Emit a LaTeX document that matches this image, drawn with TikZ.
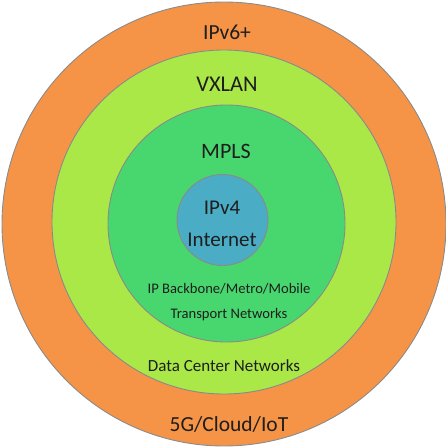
\documentclass[tikz,border=0pt]{standalone}
\usepackage{fontspec}
\setmainfont{Carlito}
\definecolor{orng}{HTML}{F59446}
\definecolor{lgreen}{HTML}{AAE847}
\definecolor{mgreen}{HTML}{48D76F}
\definecolor{bluec}{HTML}{4BACC6}
\definecolor{ring}{HTML}{8A8A8A}
\definecolor{txt}{HTML}{1E1E1E}
\begin{document}
\begin{tikzpicture}[x=1pt,y=-1pt,
  layer/.style={circle,draw=ring,line width=0.9pt,inner sep=0pt},
  lbl/.style={text=txt,inner sep=0pt,anchor=base}]
\useasboundingbox (0,0) rectangle (446,447);
\node[layer,fill=orng,minimum size=444pt] (c1) at (224,224) {};
\node[layer,fill=lgreen,minimum size=344pt] (c2) at (224,222) {};
\node[layer,fill=mgreen,minimum size=237pt] (c3) at (226.5,223.5) {};
\node[layer,fill=bluec,minimum size=91pt] (c4) at (222.5,220) {};
\node[lbl,font=\fontsize{21.5}{24}\selectfont] (t1) at (227,39) {IPv6+};
\node[lbl,font=\fontsize{22.5}{24}\selectfont] (t2) at (227,91) {VXLAN};
\node[lbl,font=\fontsize{22}{24}\selectfont] (t3) at (226,158) {MPLS};
\node[lbl,font=\fontsize{21}{24}\selectfont] (t4) at (222,214) {IPv4};
\node[lbl,font=\fontsize{21}{24}\selectfont] (t5) at (222,246) {Internet};
\node[lbl,font=\fontsize{14.6}{18}\selectfont] (t6) at (229,293) {IP Backbone/Metro/Mobile};
\node[lbl,font=\fontsize{14.6}{18}\selectfont] (t7) at (229,318) {Transport Networks};
\node[lbl,font=\fontsize{17}{20}\selectfont] (t8) at (224,371) {Data Center Networks};
\node[lbl,font=\fontsize{21.5}{24}\selectfont] (t9) at (229,431) {5G/Cloud/IoT};
\end{tikzpicture}
\end{document}
